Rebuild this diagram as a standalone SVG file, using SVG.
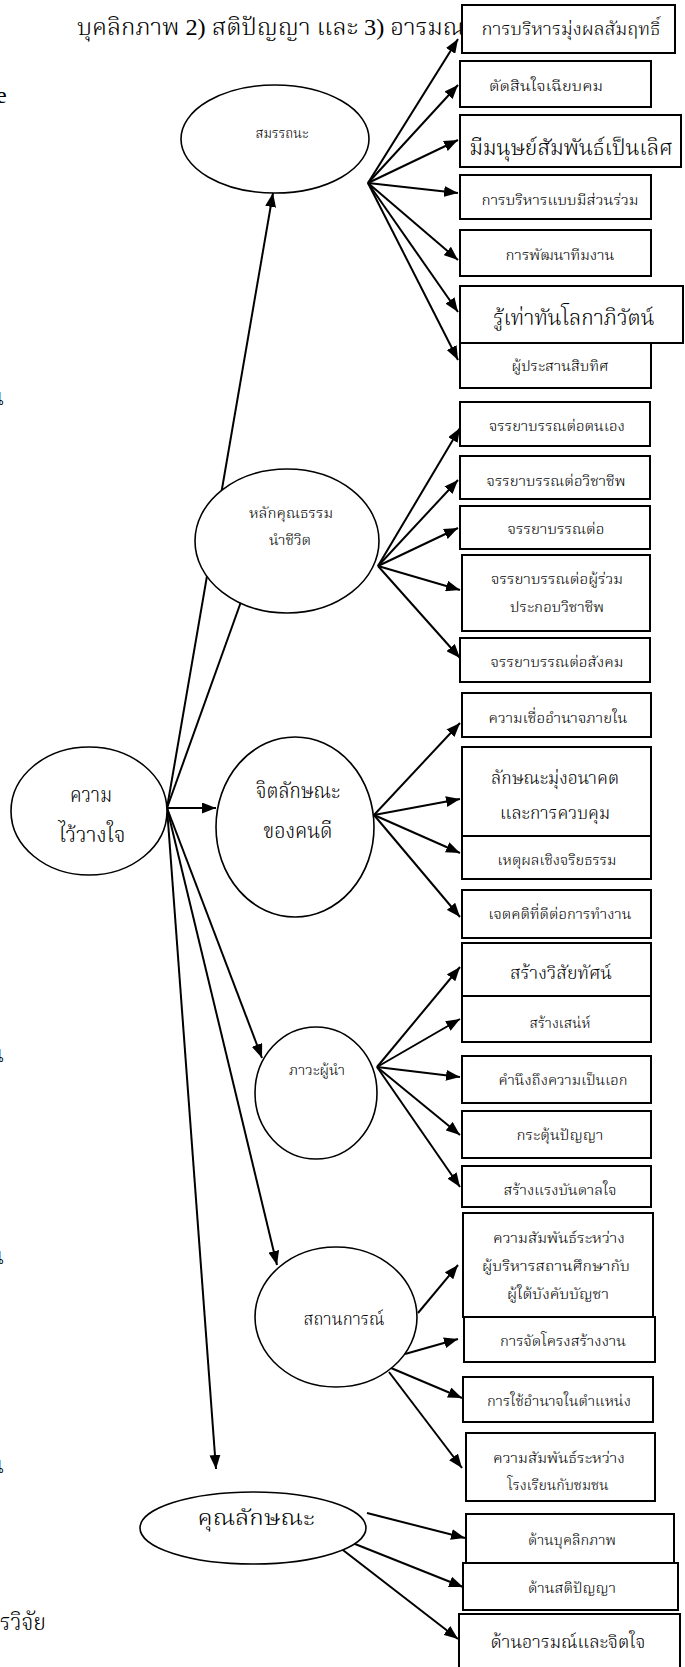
<svg xmlns="http://www.w3.org/2000/svg" width="685" height="1667" viewBox="0 0 685 1667">
<style>
.box{fill:#fff;stroke:#000;stroke-width:2}
.ell{fill:#fff;stroke:#000;stroke-width:1.6}
.c{fill:none;stroke:#000;stroke-width:2;marker-end:url(#ah)}
text{font-family:'Liberation Serif','Noto Serif Thai','Noto Sans Thai Looped','Noto Sans Thai',serif;font-weight:300;fill:#000;text-anchor:middle}
.s{font-size:15px}
.m{font-size:18px}
.l{font-size:21px}
.h{font-size:24px;text-anchor:start}
</style>
<defs>
<marker id="ah" markerUnits="userSpaceOnUse" markerWidth="14" markerHeight="11" refX="14" refY="5.5" orient="auto">
<path d="M0,0 L14,5.5 L0,11 z" fill="#000"/>
</marker>
</defs>
<g id="page-text">
<text class="h" x="77" y="35" textLength="388" lengthAdjust="spacingAndGlyphs">บุคลิกภาพ 2) สติปัญญา และ 3) อารมณ</text>
<text class="h" x="-4" y="103">e</text>
<text class="h" x="4" y="405" style="text-anchor:end">น</text>
<text class="h" x="4" y="1062" style="text-anchor:end">น</text>
<text class="h" x="4" y="1264" style="text-anchor:end">น</text>
<text class="h" x="4" y="1473" style="text-anchor:end">น</text>
<text class="h" x="0" y="1630" textLength="46" lengthAdjust="spacingAndGlyphs">รวิจัย</text>
</g>
<g id="connectors">
<line class="c" x1="167" y1="808" x2="273" y2="193"/>
<line class="c" x1="167" y1="808" x2="247" y2="585"/>
<line class="c" x1="167" y1="808" x2="216" y2="808"/>
<line class="c" x1="167" y1="808" x2="262" y2="1058"/>
<line class="c" x1="167" y1="808" x2="277" y2="1265"/>
<line class="c" x1="167" y1="808" x2="216" y2="1469"/>
<line class="c" x1="368" y1="183" x2="458" y2="39"/>
<line class="c" x1="368" y1="183" x2="458" y2="85"/>
<line class="c" x1="368" y1="183" x2="458" y2="140"/>
<line class="c" x1="368" y1="183" x2="458" y2="193"/>
<line class="c" x1="368" y1="183" x2="458" y2="260"/>
<line class="c" x1="368" y1="183" x2="458" y2="312"/>
<line class="c" x1="368" y1="183" x2="458" y2="360"/>
<line class="c" x1="378" y1="566" x2="460" y2="428"/>
<line class="c" x1="378" y1="566" x2="458" y2="480"/>
<line class="c" x1="378" y1="566" x2="458" y2="528"/>
<line class="c" x1="378" y1="566" x2="460" y2="590"/>
<line class="c" x1="378" y1="566" x2="460" y2="658"/>
<line class="c" x1="374" y1="815" x2="460" y2="723"/>
<line class="c" x1="374" y1="815" x2="460" y2="799"/>
<line class="c" x1="374" y1="815" x2="460" y2="853"/>
<line class="c" x1="374" y1="815" x2="460" y2="917"/>
<line class="c" x1="377" y1="1067" x2="460" y2="967"/>
<line class="c" x1="377" y1="1067" x2="460" y2="1019"/>
<line class="c" x1="377" y1="1067" x2="460" y2="1077"/>
<line class="c" x1="377" y1="1067" x2="460" y2="1135"/>
<line class="c" x1="377" y1="1067" x2="460" y2="1187"/>
<line class="c" x1="418" y1="1313" x2="458" y2="1265"/>
<line class="c" x1="405" y1="1354" x2="458" y2="1339"/>
<line class="c" x1="391" y1="1368" x2="462" y2="1398"/>
<line class="c" x1="389" y1="1372" x2="462" y2="1468"/>
<line class="c" x1="367" y1="1513" x2="465" y2="1538"/>
<line class="c" x1="350" y1="1542" x2="463" y2="1587"/>
<line class="c" x1="339" y1="1547" x2="458" y2="1639"/>
</g>
<g id="n-trust"><ellipse class="ell" cx="89" cy="811" rx="78" ry="64"/>
<text class="l" x="91" y="802" textLength="42" lengthAdjust="spacingAndGlyphs">ความ</text>
<text class="l" x="92" y="842" textLength="67" lengthAdjust="spacingAndGlyphs">ไว้วางใจ</text></g>
<g id="n-competency"><ellipse class="ell" cx="275" cy="139" rx="94" ry="54"/>
<text class="s" x="282" y="138" textLength="53" lengthAdjust="spacingAndGlyphs">สมรรถนะ</text></g>
<g id="n-moral"><ellipse class="ell" cx="287" cy="541" rx="92" ry="72"/>
<text class="s" x="291" y="518" textLength="84" lengthAdjust="spacingAndGlyphs">หลักคุณธรรม</text>
<text class="s" x="290" y="545" textLength="42" lengthAdjust="spacingAndGlyphs">นำชีวิต</text></g>
<g id="n-psych"><ellipse class="ell" cx="295" cy="827" rx="79" ry="90"/>
<text class="l" x="298" y="798" textLength="84" lengthAdjust="spacingAndGlyphs">จิตลักษณะ</text>
<text class="l" x="298" y="838" textLength="69" lengthAdjust="spacingAndGlyphs">ของคนดี</text></g>
<g id="n-leader"><ellipse class="ell" cx="316" cy="1093" rx="61" ry="66"/>
<text class="s" x="317" y="1075" textLength="56" lengthAdjust="spacingAndGlyphs">ภาวะผู้นำ</text></g>
<g id="n-situation"><ellipse class="ell" cx="336" cy="1317" rx="81" ry="70"/>
<text class="m" x="344" y="1325" textLength="81" lengthAdjust="spacingAndGlyphs">สถานการณ์</text></g>
<g id="n-trait"><ellipse class="ell" cx="253" cy="1528" rx="113" ry="36"/>
<text class="l" x="256" y="1525" textLength="117" lengthAdjust="spacingAndGlyphs">คุณลักษณะ</text></g>
<g id="b1"><rect class="box" x="462" y="5" width="213" height="48"/><text class="m" x="571" y="35" textLength="179" lengthAdjust="spacingAndGlyphs">การบริหารมุ่งผลสัมฤทธิ์</text></g>
<g id="b2"><rect class="box" x="460" y="61" width="191" height="46"/><text class="s" x="546" y="91" textLength="114" lengthAdjust="spacingAndGlyphs">ตัดสินใจเฉียบคม</text></g>
<g id="b3"><rect class="box" x="460" y="115" width="221" height="52"/><text class="l" x="571" y="155" textLength="203" lengthAdjust="spacingAndGlyphs">มีมนุษย์สัมพันธ์เป็นเลิศ</text></g>
<g id="b4"><rect class="box" x="460" y="175" width="191" height="44"/><text class="s" x="560" y="205" textLength="157" lengthAdjust="spacingAndGlyphs">การบริหารแบบมีส่วนร่วม</text></g>
<g id="b5"><rect class="box" x="460" y="230" width="191" height="46"/><text class="s" x="560" y="260" textLength="109" lengthAdjust="spacingAndGlyphs">การพัฒนาทีมงาน</text></g>
<g id="b7"><rect class="box" x="460" y="343" width="191" height="45"/><text class="s" x="560" y="371" textLength="97" lengthAdjust="spacingAndGlyphs">ผู้ประสานสิบทิศ</text></g>
<g id="b6"><rect class="box" x="460" y="286" width="223" height="57"/><text class="l" x="574" y="325" textLength="161" lengthAdjust="spacingAndGlyphs">รู้เท่าทันโลกาภิวัตน์</text></g>
<g id="b8"><rect class="box" x="460" y="402" width="190" height="44"/><text class="s" x="557" y="431" textLength="136" lengthAdjust="spacingAndGlyphs">จรรยาบรรณต่อตนเอง</text></g>
<g id="b9"><rect class="box" x="460" y="456" width="190" height="43"/><text class="s" x="556" y="486" textLength="139" lengthAdjust="spacingAndGlyphs">จรรยาบรรณต่อวิชาชีพ</text></g>
<g id="b10"><rect class="box" x="460" y="506" width="190" height="43"/><text class="s" x="556" y="534" textLength="97" lengthAdjust="spacingAndGlyphs">จรรยาบรรณต่อ</text></g>
<g id="b11"><rect class="box" x="462" y="555" width="188" height="76"/><text class="s" x="557" y="584" textLength="132" lengthAdjust="spacingAndGlyphs">จรรยาบรรณต่อผู้ร่วม</text><text class="s" x="557" y="612" textLength="94" lengthAdjust="spacingAndGlyphs">ประกอบวิชาชีพ</text></g>
<g id="b12"><rect class="box" x="460" y="638" width="190" height="44"/><text class="s" x="557" y="667" textLength="133" lengthAdjust="spacingAndGlyphs">จรรยาบรรณต่อสังคม</text></g>
<g id="b13"><rect class="box" x="462" y="693" width="189" height="44"/><text class="s" x="558" y="723" textLength="139" lengthAdjust="spacingAndGlyphs">ความเชื่ออำนาจภายใน</text></g>
<g id="b14"><rect class="box" x="462" y="747" width="189" height="89"/><text class="m" x="555" y="784" textLength="128" lengthAdjust="spacingAndGlyphs">ลักษณะมุ่งอนาคต</text><text class="m" x="555" y="819" textLength="110" lengthAdjust="spacingAndGlyphs">และการควบคุม</text></g>
<g id="b15"><rect class="box" x="462" y="836" width="189" height="43"/><text class="s" x="557" y="865" textLength="119" lengthAdjust="spacingAndGlyphs">เหตุผลเชิงจริยธรรม</text></g>
<g id="b16"><rect class="box" x="462" y="890" width="189" height="48"/><text class="s" x="560" y="919" textLength="143" lengthAdjust="spacingAndGlyphs">เจตคติที่ดีต่อการทำงาน</text></g>
<g id="b17"><rect class="box" x="462" y="943" width="189" height="53"/><text class="m" x="561" y="979" textLength="102" lengthAdjust="spacingAndGlyphs">สร้างวิสัยทัศน์</text></g>
<g id="b18"><rect class="box" x="462" y="996" width="189" height="46"/><text class="s" x="560" y="1028" textLength="61" lengthAdjust="spacingAndGlyphs">สร้างเสน่ห์</text></g>
<g id="b19"><rect class="box" x="462" y="1056" width="189" height="47"/><text class="s" x="563" y="1085" textLength="129" lengthAdjust="spacingAndGlyphs">คำนึงถึงความเป็นเอก</text></g>
<g id="b20"><rect class="box" x="462" y="1111" width="189" height="47"/><text class="s" x="560" y="1140" textLength="87" lengthAdjust="spacingAndGlyphs">กระตุ้นปัญญา</text></g>
<g id="b21"><rect class="box" x="462" y="1166" width="189" height="41"/><text class="s" x="560" y="1195" textLength="113" lengthAdjust="spacingAndGlyphs">สร้างแรงบันดาลใจ</text></g>
<g id="b22"><rect class="box" x="463" y="1213" width="190" height="104"/><text class="s" x="559" y="1243" textLength="132" lengthAdjust="spacingAndGlyphs">ความสัมพันธ์ระหว่าง</text><text class="s" x="556" y="1271" textLength="148" lengthAdjust="spacingAndGlyphs">ผู้บริหารสถานศึกษากับ</text><text class="s" x="558" y="1299" textLength="102" lengthAdjust="spacingAndGlyphs">ผู้ใต้บังคับบัญชา</text></g>
<g id="b23"><rect class="box" x="464" y="1317" width="191" height="45"/><text class="s" x="563" y="1346" textLength="126" lengthAdjust="spacingAndGlyphs">การจัดโครงสร้างงาน</text></g>
<g id="b24"><rect class="box" x="463" y="1377" width="190" height="45"/><text class="s" x="559" y="1406" textLength="144" lengthAdjust="spacingAndGlyphs">การใช้อำนาจในตำแหน่ง</text></g>
<g id="b25"><rect class="box" x="466" y="1433" width="189" height="68"/><text class="s" x="559" y="1463" textLength="132" lengthAdjust="spacingAndGlyphs">ความสัมพันธ์ระหว่าง</text><text class="s" x="558" y="1490" textLength="101" lengthAdjust="spacingAndGlyphs">โรงเรียนกับชมชน</text></g>
<g id="b26"><rect class="box" x="466" y="1514" width="208" height="52"/><text class="s" x="572" y="1545" textLength="88" lengthAdjust="spacingAndGlyphs">ด้านบุคลิกภาพ</text></g>
<g id="b27"><rect class="box" x="463" y="1563" width="215" height="47"/><text class="s" x="572" y="1593" textLength="88" lengthAdjust="spacingAndGlyphs">ด้านสติปัญญา</text></g>
<g id="b28"><rect class="box" x="459" y="1614" width="221" height="60"/><text class="m" x="568" y="1648" textLength="155" lengthAdjust="spacingAndGlyphs">ด้านอารมณ์และจิตใจ</text></g>
</svg>
